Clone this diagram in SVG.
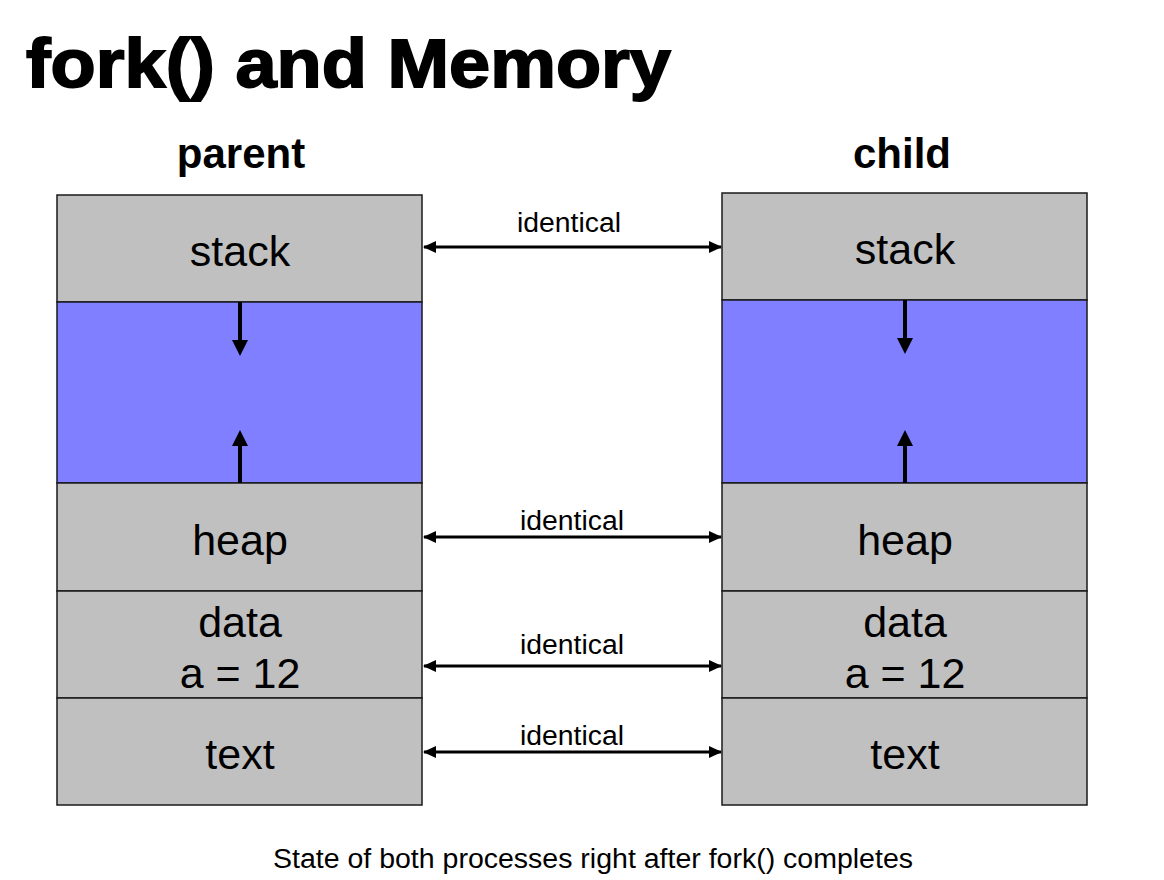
<svg xmlns="http://www.w3.org/2000/svg" width="1164" height="880" viewBox="0 0 1164 880">
<defs>
<style>
.seg{fill:#c0c0c0;stroke:#1a1a1a;stroke-width:1.5}
.free{fill:#7f7fff;stroke:#1a1a1a;stroke-width:1.5}
.lbl{font-family:"Liberation Sans",Arial,sans-serif;font-size:43px;fill:#000;text-anchor:middle}
.hdr{font-family:"Liberation Sans",Arial,sans-serif;font-size:42px;font-weight:bold;fill:#000;text-anchor:middle}
.small{font-family:"Liberation Sans",Arial,sans-serif;font-size:27px;fill:#000;text-anchor:middle}
.h{stroke:#000;stroke-width:3;fill:none}
.v{stroke:#000;stroke-width:4;fill:none}
</style>
<marker id="ah" markerUnits="userSpaceOnUse" markerWidth="13" markerHeight="13" viewBox="0 0 13 13" refX="12" refY="6.5" orient="auto-start-reverse">
<path d="M0,0.5 L13,6.5 L0,12.5 Z" fill="#000"/>
</marker>
<marker id="av" markerUnits="userSpaceOnUse" markerWidth="16" markerHeight="16" viewBox="0 0 16 16" refX="2" refY="8" orient="auto">
<path d="M0,0 L16,8 L0,16 Z" fill="#000"/>
</marker>
</defs>
<rect width="1164" height="880" fill="#fff"/>
<text x="26" y="87" font-family="'Liberation Sans',Arial,sans-serif" font-size="68" font-weight="bold" stroke="#000" stroke-width="1.8" textLength="645" lengthAdjust="spacingAndGlyphs">fork() and Memory</text>

<g id="parent">
<text class="hdr" x="241" y="168">parent</text>
<g id="parent-stack"><rect class="seg" x="57" y="195" width="365" height="107"/><text class="lbl" x="240" y="266">stack</text></g>
<g id="parent-free"><rect class="free" x="57" y="302" width="365" height="181"/></g>
<g id="parent-heap"><rect class="seg" x="57" y="483" width="365" height="108"/><text class="lbl" x="240" y="555">heap</text></g>
<g id="parent-data"><rect class="seg" x="57" y="591" width="365" height="107"/><text class="lbl" x="240" y="637">data</text><text class="lbl" x="240" y="688">a = 12</text></g>
<g id="parent-text"><rect class="seg" x="57" y="698" width="365" height="107"/><text class="lbl" x="240" y="769">text</text></g>
</g>

<g id="child">
<text class="hdr" x="902" y="168">child</text>
<g id="child-stack"><rect class="seg" x="722" y="193" width="365" height="107"/><text class="lbl" x="905" y="264">stack</text></g>
<g id="child-free"><rect class="free" x="722" y="300" width="365" height="183"/></g>
<g id="child-heap"><rect class="seg" x="722" y="483" width="365" height="108"/><text class="lbl" x="905" y="555">heap</text></g>
<g id="child-data"><rect class="seg" x="722" y="591" width="365" height="107"/><text class="lbl" x="905" y="637">data</text><text class="lbl" x="905" y="688">a = 12</text></g>
<g id="child-text"><rect class="seg" x="722" y="698" width="365" height="107"/><text class="lbl" x="905" y="769">text</text></g>
</g>

<g id="connectors">
<line class="h" x1="424" y1="247" x2="721" y2="247" marker-start="url(#ah)" marker-end="url(#ah)"/>
<line class="h" x1="424" y1="537" x2="721" y2="537" marker-start="url(#ah)" marker-end="url(#ah)"/>
<line class="h" x1="424" y1="666" x2="721" y2="666" marker-start="url(#ah)" marker-end="url(#ah)"/>
<line class="h" x1="424" y1="752" x2="721" y2="752" marker-start="url(#ah)" marker-end="url(#ah)"/>
<text class="small" x="569" y="232" textLength="104" lengthAdjust="spacingAndGlyphs">identical</text>
<text class="small" x="572" y="530" textLength="104" lengthAdjust="spacingAndGlyphs">identical</text>
<text class="small" x="572" y="654" textLength="104" lengthAdjust="spacingAndGlyphs">identical</text>
<text class="small" x="572" y="745" textLength="104" lengthAdjust="spacingAndGlyphs">identical</text>
<line class="v" x1="240" y1="302" x2="240" y2="342" marker-end="url(#av)"/>
<line class="v" x1="240" y1="483" x2="240" y2="444" marker-end="url(#av)"/>
<line class="v" x1="905" y1="300" x2="905" y2="340" marker-end="url(#av)"/>
<line class="v" x1="905" y1="483" x2="905" y2="444" marker-end="url(#av)"/>
</g>

<text x="593" y="868" font-family="'Liberation Sans',Arial,sans-serif" font-size="27" text-anchor="middle" textLength="640" lengthAdjust="spacingAndGlyphs">State of both processes right after fork() completes</text>
</svg>
